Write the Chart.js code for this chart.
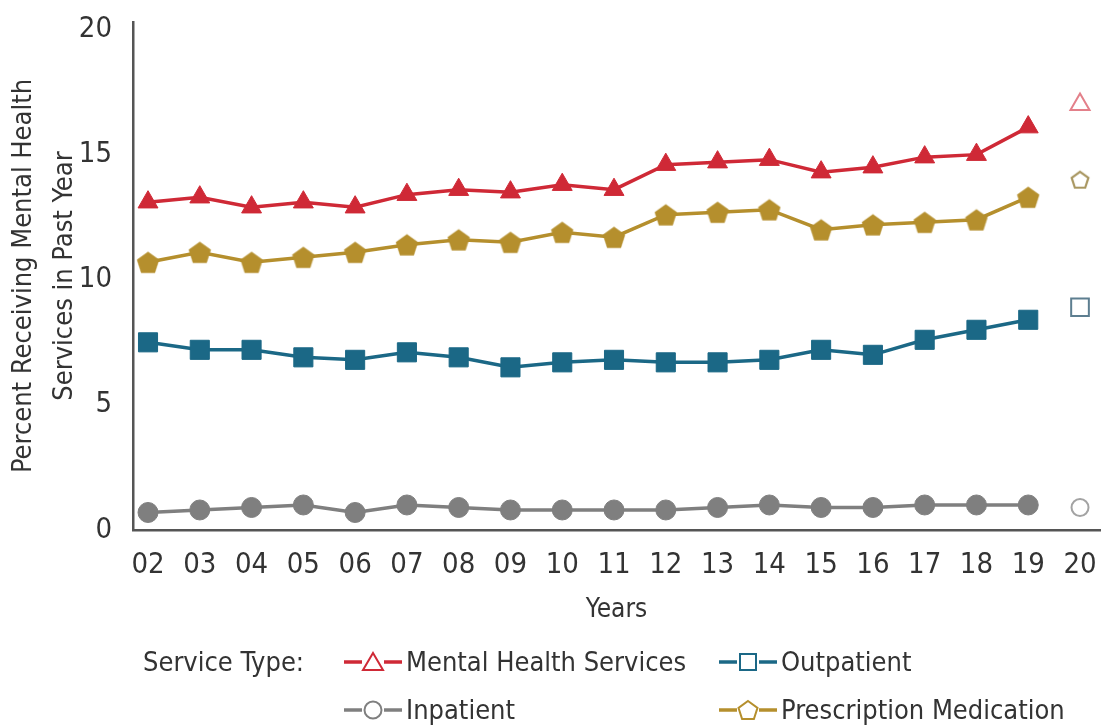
<!DOCTYPE html>
<html><head><meta charset="utf-8">
<script src="https://cdn.jsdelivr.net/npm/chart.js@4"></script>
<style>
html,body{margin:0;padding:0;background:#fff;}
#wrap{position:relative;width:1102px;height:727px;overflow:hidden;}
#c{position:absolute;left:0;top:0;}
.lg{position:absolute;font-family:'Liberation Sans Narrow','Arial Narrow','DejaVu Sans Condensed',sans-serif;font-size:27px;color:#333;height:32px;line-height:32px;white-space:nowrap;display:flex;align-items:center;}
.lg svg{margin-right:3px;}
</style></head>
<body><div id="wrap"><canvas id="c" width="1102" height="727"></canvas><div id="legend"></div></div>
<script>
// ---- data ----
const yearLabels = ['02','03','04','05','06','07','08','09','10','11','12','13','14','15','16','17','18','19','20'];
const seriesNames = ['Mental Health Services','Outpatient','Inpatient','Prescription Medication'];
const mentalHealth = [13.1,13.3,12.9,13.1,12.9,13.4,13.6,13.5,13.8,13.6,14.6,14.7,14.8,14.3,14.5,14.9,15.0,16.1];
const outpatient   = [7.5,7.2,7.2,6.9,6.8,7.1,6.9,6.5,6.7,6.8,6.7,6.7,6.8,7.2,7.0,7.6,8.0,8.4];
const inpatient    = [0.7,0.8,0.9,1.0,0.7,1.0,0.9,0.8,0.8,0.8,0.8,0.9,1.0,0.9,0.9,1.0,1.0,1.0];
const prescription = [10.7,11.1,10.7,10.9,11.1,11.4,11.6,11.5,11.9,11.7,12.6,12.7,12.8,12.0,12.2,12.3,12.4,13.3];
const values2020   = [17.0, 8.9, 0.9, 14.0]; // same order as seriesNames
const yTicks = [0,5,10,15,20];

// ---- styling ----
const FONT = "'Liberation Sans Narrow','Arial Narrow','DejaVu Sans Condensed',sans-serif";
const RED = '#cf2936', BLUE = '#1b6886', GRAY = '#7f7f7f', GOLD = '#b58f2d';
const RED_L = '#e3808a', BLUE_L = '#5d7e90', GRAY_L = '#a3a3a3', GOLD_L = '#a89660';

function pentagonCanvas(size, fill, stroke, lw) {
  const c = document.createElement('canvas');
  c.width = size; c.height = size;
  const ctx = c.getContext('2d');
  const r = size / 2 - lw;
  const cy = size / 2 + r * 0.1;
  ctx.beginPath();
  for (let k = 0; k < 5; k++) {
    const a = -Math.PI / 2 + k * 2 * Math.PI / 5;
    const x = size / 2 + r * Math.cos(a), y = cy + r * Math.sin(a);
    k ? ctx.lineTo(x, y) : ctx.moveTo(x, y);
  }
  ctx.closePath();
  ctx.fillStyle = fill; ctx.fill();
  if (lw) { ctx.lineWidth = lw; ctx.strokeStyle = stroke; ctx.stroke(); }
  return c;
}
const pentFilled = pentagonCanvas(24, GOLD, GOLD, 0.5);
const pentHollow = pentagonCanvas(22, '#fff', GOLD_L, 2.2);

const pts = arr => arr.map((v, i) => ({x: i, y: v}));
const last = yearLabels.length - 1;

const datasets = [
  {data: pts(mentalHealth), borderColor: RED, backgroundColor: RED, pointStyle: 'triangle', pointRadius: 11.5, pointBorderWidth: 1, borderWidth: 3.5},
  {data: pts(prescription), borderColor: GOLD, backgroundColor: GOLD, pointStyle: pentFilled, pointRadius: 12, borderWidth: 3.5},
  {data: pts(outpatient), borderColor: BLUE, backgroundColor: BLUE, pointStyle: 'rect', pointRadius: 13.5, pointBorderWidth: 1, borderWidth: 3.5},
  {data: pts(inpatient), borderColor: GRAY, backgroundColor: GRAY, pointStyle: 'circle', pointRadius: 10, pointBorderWidth: 1, borderWidth: 3.5},
  {data: [{x: last, y: values2020[0]}], showLine: false, borderColor: RED_L, backgroundColor: '#fff', pointStyle: 'triangle', pointRadius: 11, pointBorderWidth: 2},
  {data: [{x: last, y: values2020[3]}], showLine: false, borderColor: GOLD_L, backgroundColor: '#fff', pointStyle: pentHollow, pointRadius: 11},
  {data: [{x: last, y: values2020[1]}], showLine: false, borderColor: BLUE_L, backgroundColor: '#fff', pointStyle: 'rect', pointRadius: 12.5, pointBorderWidth: 2},
  {data: [{x: last, y: values2020[2]}], showLine: false, borderColor: GRAY_L, backgroundColor: '#fff', pointStyle: 'circle', pointRadius: 8.5, pointBorderWidth: 2}
];

new Chart(document.getElementById('c'), {
  type: 'line',
  data: {datasets},
  options: {
    responsive: false,
    animation: false,
    events: [],
    layout: {autoPadding: false, padding: {left: 0, right: 2, top: 22, bottom: 97}},
    plugins: {legend: {display: false}, tooltip: {enabled: false}},
    scales: {
      x: {
        type: 'linear', min: -0.29, max: 18.386,
        afterBuildTicks: s => { s.ticks = yearLabels.map((_, i) => ({value: i})); },
        afterFit: s => { s.height = 100; s.paddingLeft = 0; s.paddingRight = 0; },
        grid: {display: false},
        border: {display: true, color: '#555', width: 2.5},
        ticks: {callback: v => yearLabels[v], font: {family: FONT, size: 29}, color: '#333', padding: 10, maxRotation: 0, autoSkip: false},
        title: {display: true, text: 'Years', font: {family: FONT, size: 26}, color: '#333', padding: {top: 2}}
      },
      y: {
        min: 0, max: 20.3,
        afterBuildTicks: s => { s.ticks = yTicks.map(v => ({value: v})); },
        afterFit: s => { s.width = 133; s.paddingTop = 0; s.paddingBottom = 0; },
        grid: {display: false},
        border: {display: true, color: '#555', width: 2.5},
        ticks: {font: {family: FONT, size: 29}, color: '#333', padding: 13},
        title: {display: true, text: ['Percent Receiving Mental Health', 'Services in Past Year'], font: {family: FONT, size: 27, lineHeight: 1.5}, color: '#333', padding: {top: 4, bottom: 0}}
      }
    }
  }
});

// ---- HTML legend ----
function icon(shape, color) {
  let m = '';
  if (shape === 'tri') m = `<polygon points="30,5 40,22 20,22" fill="#fff" stroke="${color}" stroke-width="2"/>`;
  if (shape === 'sq') m = `<rect x="22" y="6" width="16" height="16" fill="#fff" stroke="${color}" stroke-width="2"/>`;
  if (shape === 'cir') m = `<circle cx="30" cy="14" r="8.5" fill="#fff" stroke="${color}" stroke-width="2"/>`;
  if (shape === 'pent') {
    const p = [];
    for (let k = 0; k < 5; k++) { const a = -Math.PI/2 + k*2*Math.PI/5; p.push((30 + 10*Math.cos(a)).toFixed(1) + ',' + (15 + 10*Math.sin(a)).toFixed(1)); }
    m = `<polygon points="${p.join(' ')}" fill="#fff" stroke="${color}" stroke-width="2"/>`;
  }
  return `<svg width="60" height="28" viewBox="0 0 60 28"><line x1="1" y1="14" x2="19" y2="14" stroke="${color}" stroke-width="3.5"/><line x1="41" y1="14" x2="59" y2="14" stroke="${color}" stroke-width="3.5"/>${m}</svg>`;
}
const legendItems = [
  {left: 143, top: 646, html: 'Service Type:'},
  {left: 343, top: 646, html: icon('tri', RED) + seriesNames[0]},
  {left: 718, top: 646, html: icon('sq', BLUE) + seriesNames[1]},
  {left: 343, top: 694, html: icon('cir', GRAY) + seriesNames[2]},
  {left: 718, top: 694, html: icon('pent', GOLD) + seriesNames[3]}
];
document.getElementById('legend').innerHTML = legendItems.map(it => `<div class="lg" style="left:${it.left}px;top:${it.top}px">${it.html}</div>`).join('');
</script>
</body></html>
